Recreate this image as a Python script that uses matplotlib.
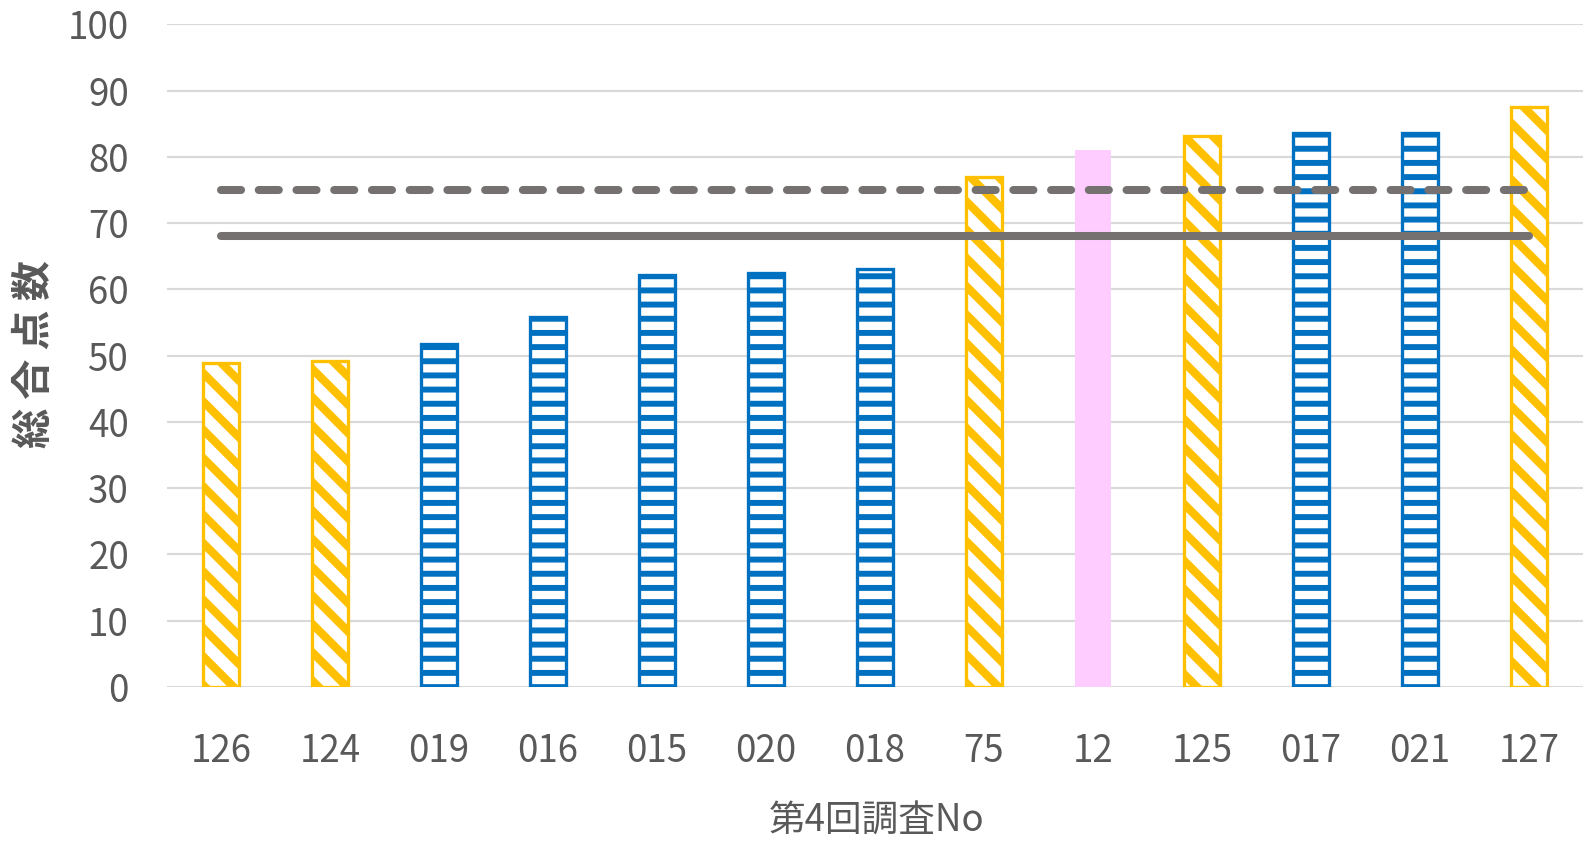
import matplotlib.pyplot as plt
import matplotlib as mpl

# survey numbers and total scores
labels = ['126', '124', '019', '016', '015', '020', '018', '75', '12', '125', '017', '021', '127']
scores = [48.9, 49.2, 51.8, 55.8, 62.1, 62.4, 63.0, 76.9, 81.0, 83.2, 83.6, 83.6, 87.6]
groups = ['y', 'y', 'b', 'b', 'b', 'b', 'b', 'y', 'p', 'y', 'b', 'b', 'y']

dashed_level = 75
solid_level = 68

plt.rcParams['font.family'] = ['Noto Sans CJK JP', 'DejaVu Sans']

yellow = '#FFC000'
blue = '#0070C0'
pink = '#FFCCFF'
gray = '#767171'

fig = plt.figure(figsize=(1588 / 170, 842 / 170), dpi=170)
ax = fig.add_axes([0.105, 0.1844, 0.892, 0.7866])

x = list(range(len(labels)))

def pick(g):
    xs = [i for i in x if groups[i] == g]
    return xs, [scores[i] for i in xs]

# yellow diagonal-hatched bars
plt.rcParams['hatch.linewidth'] = 3.5
xs, ys = pick('y')
ax.bar(xs, ys, width=0.33, facecolor='white', edgecolor=yellow, hatch='\\\\',
       linewidth=1.4, zorder=2)

# blue horizontal-hatched bars
plt.rcParams['hatch.linewidth'] = 2.5
xs, ys = pick('b')
ax.bar(xs, ys, width=0.33, facecolor='white', edgecolor=blue, hatch='--',
       linewidth=1.4, zorder=2)

# plain pink bar
xs, ys = pick('p')
ax.bar(xs, ys, width=0.33, color=pink, linewidth=0, zorder=2)

# reference levels
ax.plot([x[0], x[-1]], [dashed_level, dashed_level], color=gray, lw=3.4,
        dashes=(2.5, 2.2), dash_capstyle='round', zorder=3)
ax.plot([x[0], x[-1]], [solid_level, solid_level], color=gray, lw=3.4,
        solid_capstyle='round', zorder=3)

ax.set_xlim(-0.5, len(labels) - 0.5)
ax.set_ylim(0, 100)
ax.set_yticks(range(0, 101, 10))
ax.set_xticks(x)
ax.set_xticklabels(labels)
ax.yaxis.grid(True, color='#D9D9D9', linewidth=0.9, zorder=0)
ax.set_axisbelow(True)
for s in ax.spines.values():
    s.set_visible(False)
ax.tick_params(length=0, labelsize=15.5, labelcolor='#595959')
ax.tick_params(axis='x', pad=19)
ax.tick_params(axis='y', pad=16)

fig.text(0.022, 0.580, '総 合 点 数', rotation=90, ha='center', va='center',
         fontsize=17, color='#595959', fontweight='bold')
fig.text(0.552, 0.026, '第4回調査No', ha='center', va='center',
         fontsize=15.5, color='#595959')

fig.savefig('out.png', dpi=170)
